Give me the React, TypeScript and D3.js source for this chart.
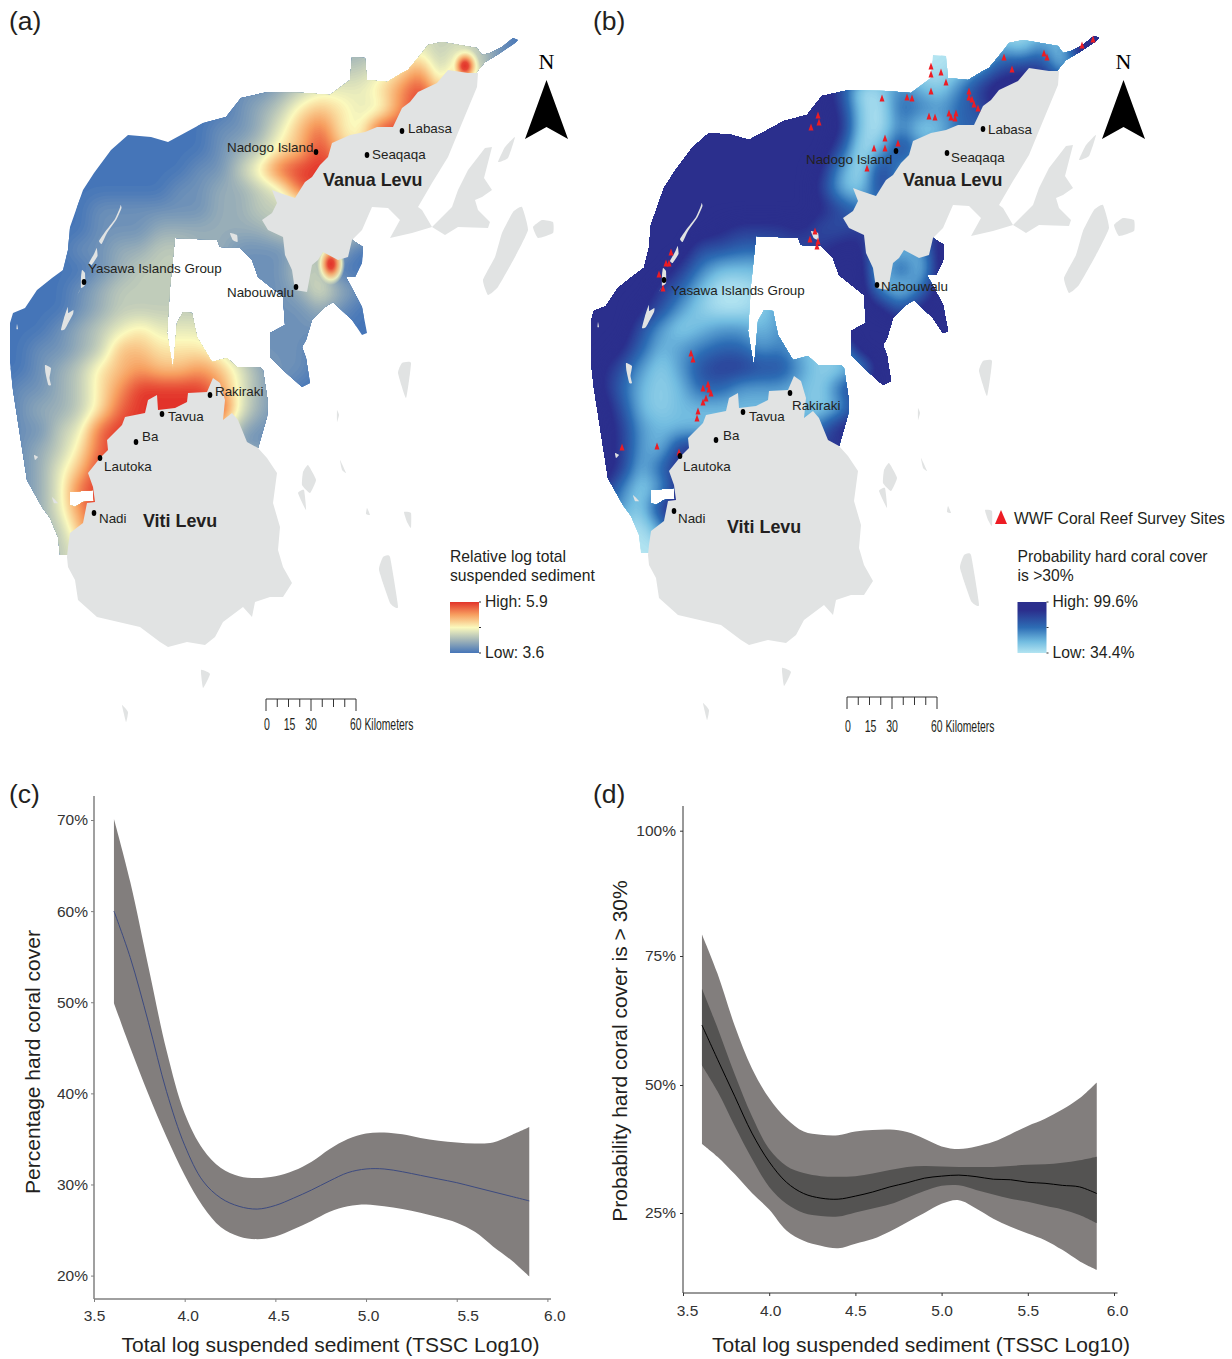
import React, { useRef, useEffect } from 'react';
import * as d3 from 'd3';

const FONT = '"Liberation Sans", Arial, sans-serif';
const TEXT = '#231f20';

// ---- curve data (c) and (d)
const tssc = [3.61, 3.7, 3.8, 3.9, 4.0, 4.1, 4.2, 4.3, 4.4, 4.5, 4.6, 4.7, 4.8, 4.9, 5.0, 5.1, 5.2, 5.3, 5.4, 5.5, 5.6, 5.7, 5.8, 5.9];

const coverMean = [60.0, 54.9, 47.8, 40.2, 34.3, 30.4, 28.5, 27.6, 27.3, 27.7, 28.5, 29.4, 30.4, 31.3, 31.7, 31.7, 31.4, 31.0, 30.6, 30.2, 29.7, 29.2, 28.7, 28.2];
const coverUpper = [70.1, 63.2, 53.9, 44.7, 37.8, 33.9, 31.8, 30.9, 30.7, 30.9, 31.5, 32.5, 33.9, 35.0, 35.6, 35.7, 35.5, 35.1, 34.8, 34.6, 34.5, 34.6, 35.4, 36.3];
const coverLower = [49.9, 45.0, 39.9, 35.2, 31.0, 27.6, 25.3, 24.3, 24.0, 24.3, 25.1, 26.0, 27.0, 27.6, 27.8, 27.6, 27.3, 26.9, 26.4, 25.8, 24.8, 23.2, 21.7, 19.9];

const probMean = [61.6, 55.0, 47.8, 40.6, 35.0, 31.0, 28.8, 27.9, 27.7, 28.3, 29.1, 30.1, 30.9, 31.8, 32.2, 32.4, 32.1, 31.6, 31.5, 31.0, 30.8, 30.4, 30.1, 28.8];
const probOuterUpper = [79.3, 71.6, 61.5, 53.2, 47.4, 43.4, 40.9, 40.3, 40.2, 40.9, 41.2, 41.3, 40.8, 39.5, 38.0, 37.5, 38.0, 38.9, 40.4, 42.0, 43.4, 45.2, 47.4, 50.5];
const probInnerUpper = [68.7, 61.1, 52.1, 43.9, 37.5, 34.2, 32.8, 32.2, 32.1, 32.2, 32.7, 33.4, 34.0, 34.2, 34.1, 34.0, 34.0, 34.0, 34.2, 34.4, 34.5, 34.8, 35.3, 36.0];
const probInnerLower = [53.8, 48.8, 42.0, 35.6, 30.1, 26.8, 25.0, 24.4, 24.3, 25.1, 25.9, 26.7, 28.0, 29.3, 30.3, 30.4, 29.5, 28.6, 27.8, 27.2, 26.4, 25.7, 24.6, 23.0];
const probOuterLower = [38.5, 36.0, 32.6, 28.9, 25.7, 21.6, 19.6, 18.6, 18.1, 19.0, 19.9, 21.4, 23.2, 25.0, 26.8, 27.5, 25.9, 23.9, 22.3, 21.0, 19.7, 17.8, 15.6, 13.9];

const xTicks = [3.5, 4.0, 4.5, 5.0, 5.5, 6.0];
const coverTicks = [20, 30, 40, 50, 60, 70];
const probTicks = [25, 50, 75, 100];

// ---- raster values, one digit per 20px cell (0 low .. 9 high), rows from north to south
const sedimentGrid = [
  '000000000000000001233433210',
  '000000000000000012234434310',
  '000000000000000223345736310',
  '000000000000112344457958730',
  '000000000000123565447999840',
  '000000000001124685499999840',
  '000000000001235696568999840',
  '000000000011358999999999840',
  '000000000112234899999999840',
  '000001111112233333333333000',
  '000001112222223333333333000',
  '000011223322111232000000000',
  '000001233322111330000000000',
  '000012333322111242100000000',
  '000012333332211121000000000',
  '000123454443211110000000000',
  '001123665554211100000000000',
  '001235676676421100000000000',
  '011235799997421000000000000',
  '012235899999421000000000000',
  '011348999995211000000000000',
  '012358999999111000000000000',
  '012469999999999000000000000',
  '012489999999999000000000000',
  '012479999999999000000000000',
  '012369999999999000000000000',
  '012349999999999000000000000',
  '012349999999999000000000000',
];

const probabilityGrid = [
  '999999999999999410000001399',
  '999999999999999310000314199',
  '999999999999999310013677259',
  '999999999999960142147999999',
  '999999999999971054356999999',
  '999999999999981041255555999',
  '999999999999960273355555999',
  '999999999999830733355555999',
  '999999999999721733355555999',
  '999999999999864444455555999',
  '999999987778667777777777999',
  '999999665566788313999999999',
  '999997422267899161999999999',
  '999975200157899314999999999',
  '999863100136789858999999999',
  '999631233236899999999999999',
  '998523455342139999999999999',
  '986313677663113999999999999',
  '985212553332158999999999999',
  '996212222222137999999999999',
  '997322222222589999999999999',
  '997327777777777999999999999',
  '997258888888888999999999999',
  '984138888888888999999999999',
  '963179999999999999999999999',
  '931039999999999999999999999',
  '910009999999999999999999999',
  '910009999999999999999999999',
];

// small sediment peaks too tight for the 20px cells
const sedimentPeaks = [
  { x: 331, y: 264, rx: 14, ry: 21 },
  { x: 465, y: 66, rx: 15, ry: 18 },
];

// ---- geography, in the pixel frame of panel (a)
const seaOutline: [number, number][] = [
  [518, 40], [513, 38], [502, 47], [490, 53], [482, 55], [477, 48], [442, 42], [428, 45], [422, 53], [408, 70], [402, 73], [387, 82], [367, 80], [365, 58], [352, 57], [350, 80], [330, 95], [305, 93], [268, 92], [241, 98], [226, 117], [203, 123], [168, 142], [151, 137], [128, 135], [111, 150], [94, 173], [83, 190], [70, 227], [68, 250], [63, 270], [52, 278], [37, 290], [25, 308], [13, 313], [10, 323], [10, 363], [13, 390], [27, 480], [42, 507], [50, 518], [58, 537], [60, 555], [68, 555], [100, 540], [200, 450], [258, 448], [267, 417], [268, 403], [263, 370], [260, 367], [237, 367], [227, 358], [212, 362], [197, 337], [192, 313], [183, 312], [177, 323], [173, 370], [167, 333], [170, 287], [175, 238], [217, 240], [220, 247], [240, 248], [252, 260], [258, 277], [283, 297], [285, 325], [270, 333], [270, 357], [283, 370], [302, 387], [310, 383], [306, 358], [302, 347], [306, 340], [312, 320], [325, 307], [333, 302], [352, 320], [362, 335], [367, 333], [362, 307], [346, 277], [355, 277], [362, 263], [363, 247], [352, 240], [380, 180], [470, 80], [485, 62], [497, 55], [515, 43],
];
const seaHole: [number, number][] = [[70, 492], [93, 490], [94, 501], [83, 502], [75, 507], [70, 505]];

const vitiLevu: [number, number][] = [
  [67, 557], [68, 547], [70, 533], [83, 523], [87, 503], [95, 502], [93, 487], [88, 473], [100, 458], [108, 450], [107, 440], [122, 425], [125, 417], [145, 413], [148, 400], [157, 395], [158, 410], [175, 408], [187, 402], [188, 393], [207, 392], [213, 378], [220, 383], [225, 400], [223, 420], [232, 413], [238, 420], [247, 442], [258, 448], [267, 458], [277, 473], [273, 503], [280, 527], [278, 550], [283, 567], [292, 583], [283, 597], [270, 597], [255, 602], [252, 617], [243, 607], [223, 622], [215, 637], [205, 645], [187, 642], [168, 647], [160, 642], [140, 627], [97, 617], [78, 600], [75, 580], [68, 567],
];
const vanuaLevu: [number, number][] = [
  [478, 73], [468, 73], [448, 70], [437, 83], [418, 92], [410, 102], [402, 108], [393, 127], [377, 127], [365, 132], [350, 135], [332, 143], [328, 157], [320, 165], [312, 177], [305, 182], [295, 198], [280, 193], [272, 190], [277, 203], [272, 213], [262, 220], [268, 230], [283, 237], [285, 255], [292, 270], [295, 290], [307, 292], [312, 265], [318, 260], [323, 252], [338, 260], [348, 257], [352, 240], [362, 230], [372, 207], [388, 208], [400, 220], [390, 238], [412, 233], [432, 227], [445, 235], [458, 227], [488, 228], [490, 222], [478, 210], [475, 200], [482, 197], [492, 190], [484, 178], [492, 147], [485, 148], [468, 170], [458, 190], [452, 207], [442, 217], [432, 227], [422, 210], [418, 207], [432, 183], [448, 157], [462, 123], [477, 87],
];
const smallIslands: [number, number][][] = [
  [[522, 207], [528, 230], [515, 257], [498, 287], [488, 295], [483, 280], [495, 257], [502, 233], [513, 212]],
  [[533, 227], [542, 220], [553, 222], [553, 233], [538, 238]],
  [[515, 137], [505, 147], [498, 162], [508, 158]],
  [[402, 363], [411, 363], [406, 398], [398, 373]],
  [[308, 465], [316, 480], [310, 493], [302, 485], [303, 472]],
  [[298, 493], [304, 490], [306, 510]],
  [[337, 410], [339, 415], [337, 422]],
  [[340, 460], [346, 473], [342, 470]],
  [[367, 508], [370, 515], [366, 514]],
  [[404, 512], [411, 513], [411, 528], [407, 522]],
  [[383, 557], [390, 557], [398, 607], [390, 603], [379, 570]],
  [[201, 670], [210, 674], [203, 688]],
  [[122, 705], [128, 712], [126, 722]],
  [[120.7, 205], [121.5, 208], [116.7, 219], [107, 233], [101.7, 244], [99, 241], [105, 232], [115, 219], [119.8, 208]],
  [[96.7, 248], [97.5, 256], [91.7, 265], [89, 263], [94, 254]],
  [[82, 270], [85, 273], [85, 285], [81, 288], [81, 277]],
  [[79, 292], [77, 295], [80, 290]],
  [[67.7, 307], [68.3, 313], [73.3, 310], [73, 314], [65, 329], [61, 330], [64, 318]],
  [[45, 365], [51, 368], [49.5, 378], [51, 385], [48.3, 385], [45.5, 373]],
  [[17, 324], [18, 329], [16.5, 329]],
  [[34, 455], [38, 457], [35, 460]],
  [[52, 497], [58, 503], [54, 503]],
  [[230, 233], [237, 235], [237.5, 242], [232.7, 240]],
];

// page positions of the survey sites in panel (b)
const surveySites: [number, number][] = [
  [1093, 39], [1082, 45], [1044, 53], [1047, 57], [1004, 57], [1012, 69], [931, 66], [931, 74], [941, 72], [946, 82], [969, 91], [931, 91], [969, 97], [972, 99], [974, 104], [978, 108], [907, 97], [912, 98], [882, 98], [818, 115], [819, 122], [811, 127], [929, 116], [935, 117], [949, 113], [951, 117], [956, 113], [955, 118], [885, 138], [874, 148], [885, 148], [898, 143], [867, 168], [815, 231], [810, 239], [818, 241], [817, 246], [671, 252], [666, 263], [669, 263], [659, 274], [663, 288], [691, 353], [693, 359], [708, 384], [703, 388], [709, 389], [711, 393], [706, 398], [703, 402], [698, 411], [697, 418], [622, 447], [657, 446], [679, 452],
];

const townsA = [
  { name: 'Labasa', dot: [402, 131], label: [408, 128] },
  { name: 'Seaqaqa', dot: [367, 155], label: [372, 154] },
  { name: 'Nadogo Island', dot: [316, 152], label: [227, 147] },
  { name: 'Yasawa Islands Group', dot: [84, 282], label: [88, 268] },
  { name: 'Nabouwalu', dot: [296, 287], label: [227, 292] },
  { name: 'Rakiraki', dot: [210, 395], label: [215, 391] },
  { name: 'Tavua', dot: [162, 414], label: [168, 416] },
  { name: 'Ba', dot: [136, 442], label: [142, 436] },
  { name: 'Lautoka', dot: [100, 458], label: [104, 466] },
  { name: 'Nadi', dot: [94, 513], label: [99, 518] },
];
const townsB = [
  { name: 'Labasa', dot: [983, 129], label: [988, 129] },
  { name: 'Seaqaqa', dot: [947, 153], label: [951, 157] },
  { name: 'Nadogo Island', dot: [896, 151], label: [806, 159] },
  { name: 'Yasawa Islands Group', dot: [664, 280], label: [671, 290] },
  { name: 'Nabouwalu', dot: [877, 285], label: [881, 286] },
  { name: 'Rakiraki', dot: [790, 393], label: [792, 405] },
  { name: 'Tavua', dot: [743, 412], label: [749, 416] },
  { name: 'Ba', dot: [716, 440], label: [723, 435] },
  { name: 'Lautoka', dot: [680, 456], label: [683, 466] },
  { name: 'Nadi', dot: [674, 511], label: [678, 518] },
];

const sedimentStops = [0, 2.25, 4.5, 6.75, 9];
const sedimentColors = ['#4575b8', '#a2b5b8', '#fbf9bd', '#f79f60', '#e2332a'];
const probabilityStops = [0, 2, 4.5, 7.5, 9];
const probabilityColors = ['#b3e4f1', '#72bce0', '#2d6db5', '#2b2f8d', '#2b2f8d'];

const ringPath = d3.line<[number, number]>();
const islandPath = d3.line<[number, number]>().curve(d3.curveCardinalClosed.tension(0.6));

const cols = 27;
const rows = 28;
const upsample = 4;
const fineCols = (cols - 1) * upsample + 1;
const fineRows = (rows - 1) * upsample + 1;
const gridX = d3.scaleLinear().domain([0.5, fineCols - 0.5]).range([0, 520]);
const gridY = d3.scaleLinear().domain([0.5, fineRows - 0.5]).range([30, 570]);
const gridPath = d3.geoPath(
  d3.geoTransform({
    point(x: number, y: number) {
      (this as any).stream.point(gridX(x), gridY(y));
    },
  })
);

// bilinear refinement of the digit grid, then a light blur to hide the cell diamonds
function refine(grid: string[]) {
  const cell = (i: number, j: number) => +grid[j][i];
  const data = new Float64Array(fineCols * fineRows);
  for (let v = 0; v < fineRows; v++) {
    for (let u = 0; u < fineCols; u++) {
      const i = Math.min(Math.floor(u / upsample), cols - 2);
      const j = Math.min(Math.floor(v / upsample), rows - 2);
      const fx = u / upsample - i;
      const fy = v / upsample - j;
      data[v * fineCols + u] =
        cell(i, j) * (1 - fx) * (1 - fy) + cell(i + 1, j) * fx * (1 - fy) + cell(i, j + 1) * (1 - fx) * fy + cell(i + 1, j + 1) * fx * fy;
    }
  }
  d3.blur2({ data, width: fineCols, height: fineRows }, 1);
  return data;
}

function Raster({ id, grid, color, offset, peaks = [] }: { id: string; grid: string[]; color: d3.ScaleLinear<string, string>; offset: [number, number]; peaks?: typeof sedimentPeaks }) {
  const values = refine(grid);
  const levels = d3.range(0.0625, 9, 0.125);
  const bands = d3.contours().size([fineCols, fineRows]).smooth(true).thresholds(levels)(values as any);
  return (
    <g transform={`translate(${offset[0]},${offset[1]})`}>
      <defs>
        <clipPath id={id}>
          <path d={`${ringPath(seaOutline)}Z${ringPath(seaHole)}Z`} clipRule="evenodd" />
        </clipPath>
        <radialGradient id={`${id}-peak`}>
          <stop offset="0" stopColor={color(9)} />
          <stop offset="0.22" stopColor={color(8.6)} />
          <stop offset="0.48" stopColor={color(6.5)} stopOpacity={0.95} />
          <stop offset="0.75" stopColor={color(4.5)} stopOpacity={0.85} />
          <stop offset="1" stopColor={color(4.5)} stopOpacity={0} />
        </radialGradient>
      </defs>
      <g clipPath={`url(#${id})`}>
        <rect x={-10} y={20} width={540} height={560} fill={color(0)} />
        {bands.map((b, i) => (
          <path key={i} d={gridPath(b as any) || ''} fill={color(b.value + 0.0625)} />
        ))}
        {peaks.map((p, i) => (
          <ellipse key={i} cx={p.x} cy={p.y} rx={p.rx} ry={p.ry} fill={`url(#${id}-peak)`} />
        ))}
      </g>
      <path d={`${ringPath(vitiLevu)}Z`} fill="#e1e3e3" />
      <path d={`${ringPath(vanuaLevu)}Z`} fill="#e1e3e3" />
      {smallIslands.map((r, i) => (
        <path key={i} d={islandPath(r) || ''} fill="#e1e3e3" />
      ))}
    </g>
  );
}

function Towns({ towns }: { towns: typeof townsA }) {
  return (
    <g fontFamily={FONT} fontSize={13.4} fill={TEXT}>
      {towns.map(t => (
        <g key={t.name}>
          <ellipse cx={t.dot[0]} cy={t.dot[1]} rx={2.3} ry={3} fill="#000" />
          <text x={t.label[0]} y={t.label[1]} dy="0.35em">{t.name}</text>
        </g>
      ))}
    </g>
  );
}

function NorthArrow({ x }: { x: number }) {
  const half = 21.5;
  return (
    <g>
      <text x={x} y={69} textAnchor="middle" fontFamily='"Liberation Serif", serif' fontSize={22} fill="#000">N</text>
      <path d={`M${x},80L${x - half},139L${x},127L${x + half},139Z`} fill="#000" />
    </g>
  );
}

function ScaleBar({ x0, y0, labelY }: { x0: number; y0: number; labelY: number }) {
  const km = d3.scaleLinear().domain([0, 60]).range([x0, x0 + 90]);
  const ticks = d3.range(0, 60.1, 7.5);
  const narrow = (label: string, cx: number) => (
    <text transform={`translate(${cx},${labelY}) scale(0.64,1)`} textAnchor="middle" dy="0.35em" fontFamily={FONT} fontSize={16.5} fill={TEXT}>{label}</text>
  );
  return (
    <g>
      <path d={`M${km(0)},${y0}H${km(60)}`} stroke="#333" fill="none" />
      {ticks.map(t => (
        <line key={t} x1={km(t)} x2={km(t)} y1={y0} y2={y0 + (t % 30 === 0 ? 12 : 8)} stroke="#333" />
      ))}
      {narrow('0', km(0) + 1)}
      {narrow('15', km(15) + 1)}
      {narrow('30', km(30))}
      <text transform={`translate(${km(60) - 6},${labelY}) scale(0.63,1)`} dy="0.35em" fontFamily={FONT} fontSize={16.5} fill={TEXT}>60 Kilometers</text>
    </g>
  );
}

function Legend({ id, x, title, high, low, stops, colors }: { id: string; x: number; title: string[]; high: string; low: string; stops: number[]; colors: string[] }) {
  const top = 602;
  const bottom = 653;
  const width = 29;
  return (
    <g fontFamily={FONT} fontSize={15.7} fill={TEXT}>
      <defs>
        <linearGradient id={id} x1="0" x2="0" y1="1" y2="0">
          {stops.map((s, i) => (
            <stop key={i} offset={s / 9} stopColor={colors[i]} />
          ))}
        </linearGradient>
      </defs>
      {title.map((t, i) => (
        <text key={t} x={x} y={557 + i * 19} dy="0.35em">{t}</text>
      ))}
      <rect x={x} y={top} width={width} height={bottom - top} fill={`url(#${id})`} />
      {[top, (top + bottom) / 2, bottom].map(y => (
        <line key={y} x1={x + width} x2={x + width + 2} y1={y} y2={y} stroke="#333" />
      ))}
      <text x={x + 35} y={602} dy="0.35em">{high}</text>
      <text x={x + 35} y={653} dy="0.35em">{low}</text>
    </g>
  );
}

const bandArea = (upper: number[], lower: number[], x: any, y: any) =>
  d3.area<number>()
    .x(d => x(tssc[d]))
    .y0(d => y(lower[d]))
    .y1(d => y(upper[d]))
    .curve(d3.curveCatmullRom)(tssc.map((_, i) => i)) || '';

const meanLine = (values: number[], x: any, y: any) =>
  d3.line<number>()
    .x(d => x(tssc[d]))
    .y(d => y(values[d]))
    .curve(d3.curveCatmullRom)(tssc.map((_, i) => i)) || '';

function Axes({ x, y, yBase, yTop, xEnd, yTickValues, labelShift, axisColor, strokeWidth, labelGap, yGap }: any) {
  const xRef = useRef<SVGGElement>(null);
  const yRef = useRef<SVGGElement>(null);

  useEffect(() => {
    const gx = d3.select(xRef.current!);
    gx.call(d3.axisBottom(x).tickValues(xTicks).tickFormat(d3.format('.1f') as any).tickSize(3).tickPadding(labelGap) as any);
    gx.select('.domain').attr('d', `M${x(3.5)},0H${xEnd}`).attr('stroke', axisColor).attr('stroke-width', strokeWidth);
    gx.selectAll('.tick line').attr('stroke', axisColor);
    gx.selectAll('.tick text')
      .attr('dx', (_: any, i: number) => labelShift[i])
      .attr('fill', '#333')
      .attr('font-size', 15.5)
      .attr('font-family', FONT);

    const gy = d3.select(yRef.current!);
    gy.call(d3.axisLeft(y).tickValues(yTickValues).tickFormat((d: any) => `${d}%`).tickSize(3).tickPadding(yGap) as any);
    gy.select('.domain').attr('d', `M0,${yTop}V${yBase}`).attr('stroke', axisColor).attr('stroke-width', strokeWidth);
    gy.selectAll('.tick line').attr('stroke', axisColor);
    gy.selectAll('.tick text').attr('fill', '#333').attr('font-size', 15.5).attr('font-family', FONT);
  }, []);

  return (
    <g>
      <g ref={xRef} transform={`translate(0,${yBase})`} />
      <g ref={yRef} transform={`translate(${x(3.5)},0)`} />
    </g>
  );
}

function CoverChart() {
  const x = d3.scaleLinear().domain([3.5, 6]).range([94, 547.4]);
  const y = d3.scaleLinear().domain([20, 70]).range([1275.6, 820]);
  return (
    <g>
      <path d={bandArea(coverUpper, coverLower, x, y)} fill="#827e7d" />
      <path d={meanLine(coverMean, x, y)} fill="none" stroke="#3c4a80" strokeWidth={1} />
      <Axes x={x} y={y} yBase={1299} yTop={796} xEnd={551} yTickValues={coverTicks} labelShift={[0, 3, 3, 2, 11, 7]} axisColor="#808080" strokeWidth={1.5} labelGap={8} yGap={3} />
      <text x={330.5} y={1345} dy="0.35em" textAnchor="middle" fontFamily={FONT} fontSize={21} fill={TEXT}>Total log suspended sediment (TSSC Log10)</text>
      <text transform="translate(33,1062) rotate(-90)" dy="0.35em" textAnchor="middle" fontFamily={FONT} fontSize={21} fill={TEXT}>Percentage hard coral cover</text>
    </g>
  );
}

function ProbabilityChart() {
  const x = d3.scaleLinear().domain([3.5, 6]).range([683, 1114]);
  const y = d3.scaleLinear().domain([25, 50, 75, 100]).range([1213, 1085, 956, 830.7]);
  return (
    <g>
      <path d={bandArea(probOuterUpper, probOuterLower, x, y)} fill="#827e7d" />
      <path d={bandArea(probInnerUpper, probInnerLower, x, y)} fill="#545352" />
      <path d={meanLine(probMean, x, y)} fill="none" stroke="#000" strokeWidth={1} />
      <Axes x={x} y={y} yBase={1293} yTop={806} xEnd={1117.5} yTickValues={probTicks} labelShift={[4, 1, 0, 0, 0, 3]} axisColor="#333" strokeWidth={1} labelGap={9} yGap={4} />
      <text x={921} y={1345} dy="0.35em" textAnchor="middle" fontFamily={FONT} fontSize={21} fill={TEXT}>Total log suspended sediment (TSSC Log10)</text>
      <text transform="translate(620,1051) rotate(-90)" dy="0.35em" textAnchor="middle" fontFamily={FONT} fontSize={21} fill={TEXT}>Probability hard coral cover is &gt; 30%</text>
    </g>
  );
}

export default function App() {
  const sedimentColor = d3.scaleLinear<string>().domain(sedimentStops).range(sedimentColors);
  const probabilityColor = d3.scaleLinear<string>().domain(probabilityStops).range(probabilityColors);
  const panelLabel = (t: string, x: number, y: number) => (
    <text x={x} y={y} fontFamily={FONT} fontSize={26.5} fill={TEXT}>{t}</text>
  );
  return (
    <svg width={1232} height={1359} style={{ position: 'absolute', left: 0, top: 0, display: 'block', background: '#fff' }}>
      <Raster id="sea-a" grid={sedimentGrid} color={sedimentColor} offset={[0, 0]} peaks={sedimentPeaks} />
      <Raster id="sea-b" grid={probabilityGrid} color={probabilityColor} offset={[581, -2]} />

      {surveySites.map((s, i) => (
        <path key={i} d={`M${s[0]},${s[1] - 3.5}l2.5,7h-5Z`} fill="#ed1c24" />
      ))}
      <Towns towns={townsA} />
      <Towns towns={townsB} />
      <g fontFamily={FONT} fontSize={17.9} fontWeight="bold" fill={TEXT}>
        <text x={323} y={180} dy="0.35em">Vanua Levu</text>
        <text x={143} y={521} dy="0.35em">Viti Levu</text>
        <text x={903} y={180} dy="0.35em">Vanua Levu</text>
        <text x={727} y={527} dy="0.35em">Viti Levu</text>
      </g>

      <NorthArrow x={546.5} />
      <NorthArrow x={1123.5} />
      <ScaleBar x0={266} y0={699} labelY={724} />
      <ScaleBar x0={847} y0={697} labelY={726} />
      <Legend id="legend-a" x={450} title={['Relative log total', 'suspended sediment']} high="High: 5.9" low="Low: 3.6" stops={sedimentStops} colors={sedimentColors} />
      <Legend id="legend-b" x={1017.5} title={['Probability hard coral cover', 'is >30%']} high="High: 99.6%" low="Low: 34.4%" stops={probabilityStops} colors={probabilityColors} />
      <path d="M1001,510L1007,524H995Z" fill="#ed1c24" />
      <text x={1014} y={519} dy="0.35em" fontFamily={FONT} fontSize={15.7} fill={TEXT}>WWF Coral Reef Survey Sites</text>

      {panelLabel('(a)', 9, 30)}
      {panelLabel('(b)', 593, 30)}
      {panelLabel('(c)', 9, 803)}
      {panelLabel('(d)', 593, 803)}

      <CoverChart />
      <ProbabilityChart />
    </svg>
  );
}
